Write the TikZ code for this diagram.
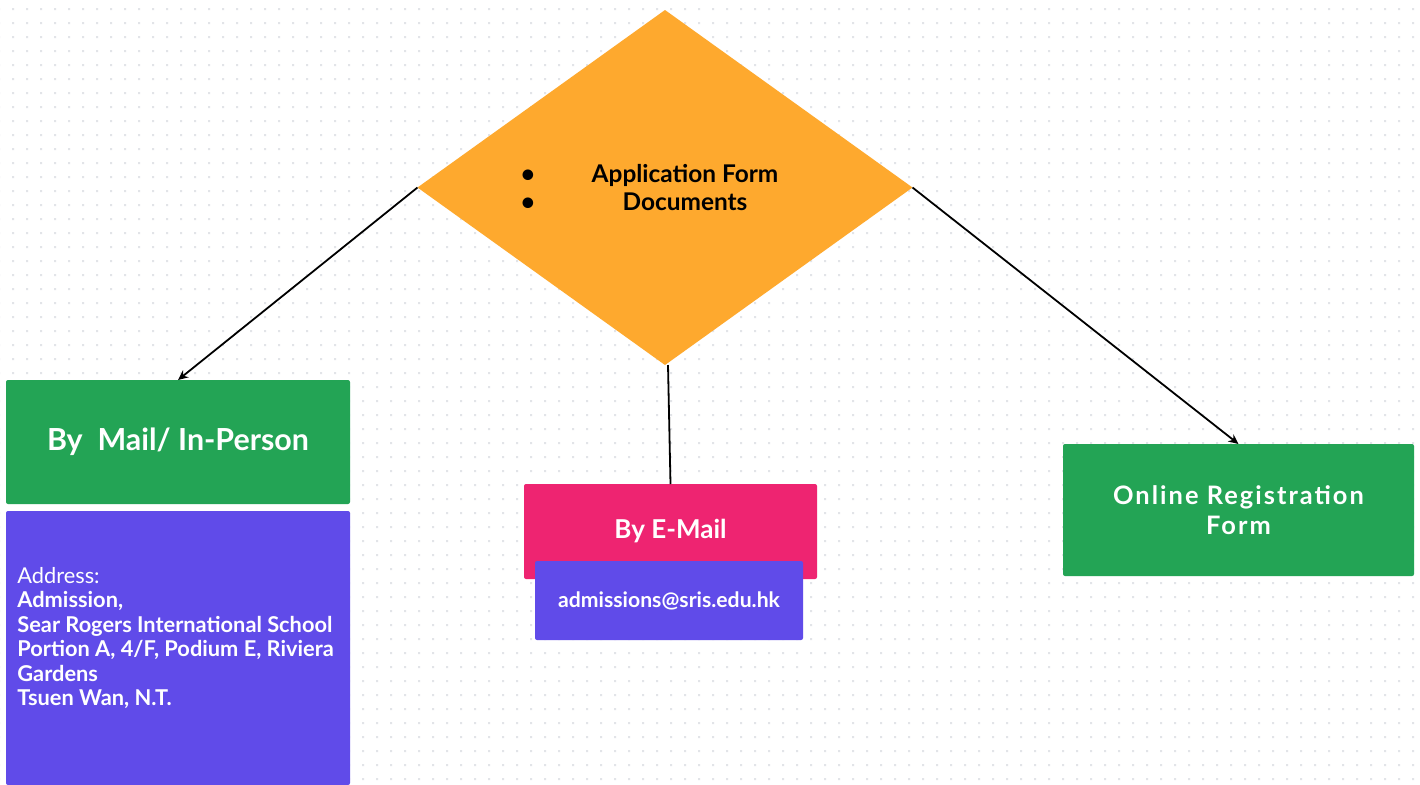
\documentclass[tikz,border=0pt]{standalone}
\usepackage{fontspec}
\setmainfont{Lato}
\newfontfamily\widefont[LetterSpace=8]{Lato}
\usetikzlibrary{shapes.geometric,arrows.meta}
\definecolor{orangec}{RGB}{254,169,46}
\definecolor{greenc}{RGB}{35,164,85}
\definecolor{purplec}{RGB}{96,75,233}
\definecolor{pinkc}{RGB}{238,36,113}
\definecolor{dotc}{RGB}{226,228,232}
\begin{document}
\begin{tikzpicture}[x=0.5pt,y=-0.5pt,
  box/.style={rectangle,rounded corners=1pt,inner sep=0pt,outer sep=0pt,text=white},
  arr/.style={line width=0.9pt,-{Stealth[length=5pt,width=4.5pt]}},
  conn/.style={line width=0.9pt}]
\useasboundingbox (0,0) rectangle (1420,784);
\fill[white] (0,0) rectangle (1420,784);
\fill[dotc] \foreach \i in {-1,...,100}{\foreach \j in {0,...,55}{(12+14*\i,8+14*\j) rectangle ++(2,2)}};
% diamond
\node[diamond,fill=orangec,inner sep=0pt,outer sep=0pt,minimum width=247.5pt,minimum height=177.5pt] (dia) at (665,187.5) {};
\node[inner sep=0pt,align=left,font=\fontsize{12.2}{14}\selectfont\bfseries] (list) at (650.5,187.5)
  {\makebox[4pt]{\textbullet}\hspace{30.5pt}\makebox[92pt]{Application Form}\\
   \makebox[4pt]{\textbullet}\hspace{30.5pt}\makebox[92pt]{Documents}};
% boxes
\node[box,fill=greenc,minimum width=172pt,minimum height=62pt,font=\fontsize{15.2}{18}\selectfont\bfseries] (mail) at (178,442) {By\ \ Mail/ In-Person};
\node[box,fill=purplec,minimum width=172pt,minimum height=137pt] (addr) at (178,648) {};
\node[anchor=west,inner sep=0pt,align=left,text=white,font=\fontsize{10.9}{12.25}\selectfont] (addrtext) at (17,638)
  {Address:\\\textbf{Admission,}\\\textbf{Sear Rogers International School}\\\textbf{Portion A, 4/F, Podium E, Riviera}\\\textbf{Gardens}\\\textbf{Tsuen Wan, N.T.}};
\node[box,fill=pinkc,minimum width=146.5pt,minimum height=47.5pt,font=\fontsize{13}{15}\selectfont\bfseries] (email) at (670.5,531.5) {By E-Mail};
\node[box,fill=purplec,minimum width=134pt,minimum height=39.5pt,font=\fontsize{10.6}{12}\selectfont\bfseries] (emailaddr) at (669,600.5) {admissions@sris.edu.hk};
\node[box,fill=greenc,minimum width=175.5pt,minimum height=66pt,align=center,font=\widefont\fontsize{12.7}{15}\selectfont\bfseries] (online) at (1238.5,510) {Online Registration\\Form};
% connectors
\draw[arr] (dia.west) -- (mail.north);
\draw[arr] (dia.east) -- (online.north);
\draw[conn] ([xshift=1.5pt]dia.south) -- (email.north);
\end{tikzpicture}
\end{document}
